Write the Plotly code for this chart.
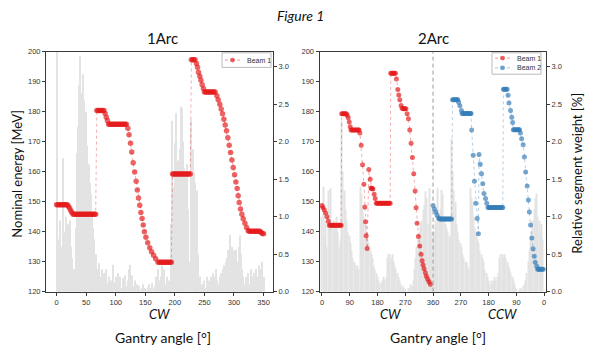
import plotly.graph_objects as go

# ---------------- 1Arc (left panel) ----------------
arc1_bar_angle = [
    0, 2, 4, 6, 8, 10, 12, 14, 16, 18, 20, 22, 24, 26, 28, 30, 32, 34, 36, 38,
    40, 42, 44, 46, 48, 50, 52, 54, 56, 58, 60, 62, 64, 66, 68, 70, 72, 74, 76, 78,
    80, 82, 84, 86, 88, 90, 92, 94, 96, 98, 100, 102, 104, 106, 108, 110, 112, 114, 116, 118,
    120, 122, 124, 126, 128, 130, 132, 134, 136, 138, 140, 142, 144, 146, 148, 150, 152, 154, 156, 158,
    160, 162, 164, 166, 168, 170, 172, 174, 176, 178, 180, 182, 184, 186, 188, 190, 192, 194, 196, 198,
    200, 202, 204, 206, 208, 210, 212, 214, 216, 218, 220, 222, 224, 226, 228, 230, 232, 234, 236, 238,
    240, 242, 244, 246, 248, 250, 252, 254, 256, 258, 260, 262, 264, 266, 268, 270, 272, 274, 276, 278,
    280, 282, 284, 286, 288, 290, 292, 294, 296, 298, 300, 302, 304, 306, 308, 310, 312, 314, 316, 318,
    320, 322, 324, 326, 328, 330, 332, 334, 336, 338, 340, 342, 344, 346, 348, 350]
arc1_bar_weight = [
    3.3, 0.7, 0.55, 0.95, 0.6, 1.78, 0.8, 0.6, 1.0, 0.7, 0.9, 0.95, 0.6, 0.45, 0.25, 0.3, 0.85, 1.85, 2.2, 2.75,
    3.14, 2.65, 2.9, 2.55, 2.3, 2.4, 1.95, 1.7, 1.45, 1.3, 1.05, 0.85, 0.7, 0.5, 0.3, 0.25, 0.38, 0.2, 0.3, 0.15,
    0.25, 0.1, 0.3, 0.12, 0.2, 0.08, 0.15, 0.1, 0.36, 0.12, 0.2, 0.1, 0.25, 0.15, 0.2, 0.05, 0.18, 0.1, 0.22, 0.08,
    0.15, 0.3, 0.36, 0.12, 0.22, 0.08, 0.15, 0.05, 0.1, 0.03, 0.08, 0.02, 0.05, 0.1, 0.03, 0.05, 0.02, 0.06, 0.1, 0.03,
    0.05, 0.12, 0.04, 0.08, 0.2, 0.1, 0.3, 0.15, 0.2, 0.35, 0.12, 0.3, 0.1, 0.2, 0.08, 0.15, 0.1, 0.9, 2.28, 1.4,
    1.98, 2.38, 1.6, 1.75, 1.9, 2.47, 2.45, 2.0, 1.65, 1.6, 1.7, 1.1, 0.4, 0.0, 2.3, 1.9, 1.6, 1.45, 1.33, 1.35,
    0.5, 0.2, 0.1, 0.05, 0.1, 0.15, 0.05, 0.2, 0.1, 0.15, 0.05, 0.2, 0.25, 0.1, 0.2, 0.3, 0.15, 0.1, 0.2, 0.25,
    0.15, 0.3, 0.35, 0.4, 0.45, 0.56, 0.5, 0.76, 0.6, 0.45, 0.55, 0.5, 0.56, 0.4, 0.6, 0.75, 0.5, 0.3, 0.2, 0.1,
    0.2, 0.15, 0.25, 0.1, 0.3, 0.2, 0.1, 0.25, 0.15, 0.3, 0.2, 0.35, 0.2, 0.3, 0.4, 0.2]

arc1_beam1_angle = [
    0, 2, 4, 6, 8, 10, 12, 14, 16, 18,
    20, 22, 24, 26,
    28, 30, 32, 34, 36, 38, 40, 42, 44, 46, 48, 50, 52, 54, 56, 58, 60, 62, 64, 66,
    68, 70, 72, 74, 76, 78, 80,
    82, 84, 86,
    88, 90, 92, 94, 96, 98, 100, 102, 104, 106, 108, 110, 112, 114, 116, 118,
    120.5, 122.5, 125, 127, 129.5, 132, 134.5, 136.5, 138.5, 140.5, 142.5, 144.5, 146.5, 148.5, 151, 154, 157.5, 160.5, 164, 167.5,
    171.5, 174, 176, 178, 180, 182, 184, 186, 188, 190, 192, 194,
    196, 198, 200, 202, 204, 206, 208, 210, 212, 214, 216, 218, 220, 222, 224, 226,
    228, 230, 232, 234,
    236.5, 238.3, 240, 242.2, 244, 246.2, 248.4,
    250, 252, 254, 256, 258, 260, 262, 264, 266, 268,
    271, 273.3, 276, 278.3, 280.6, 282.9, 285.1, 287.4, 289.6, 291.9, 294.2, 296.4, 298.7, 301, 303.2, 305.4, 307.1, 308.8, 311, 313.4, 315.6, 318.5, 321.3, 324.1,
    326, 328, 330, 332, 334, 336, 338, 340, 342, 344,
    346, 348, 350]
arc1_beam1_energy = [
    149, 149, 149, 149, 149, 149, 149, 149, 149, 149,
    148.5, 147.8, 147.0, 146.3,
    145.8, 145.8, 145.8, 145.8, 145.8, 145.8, 145.8, 145.8, 145.8, 145.8, 145.8, 145.8, 145.8, 145.8, 145.8, 145.8, 145.8, 145.8, 145.8, 145.8,
    180.4, 180.4, 180.4, 180.4, 180.4, 180.4, 180.4,
    179.4, 178.2, 177.0,
    175.8, 175.8, 175.8, 175.8, 175.8, 175.8, 175.8, 175.8, 175.8, 175.8, 175.8, 175.8, 175.8, 175.8, 175.8, 175.8,
    174.5, 172.3, 169.5, 166.6, 163.0, 159.9, 156.8, 153.9, 151.2, 148.8, 146.4, 144.4, 142.2, 140.0, 138.1, 136.3, 134.6, 133.3, 132.1, 131.0,
    129.8, 129.8, 129.8, 129.8, 129.8, 129.8, 129.8, 129.8, 129.8, 129.8, 129.8, 129.8,
    159.2, 159.2, 159.2, 159.2, 159.2, 159.2, 159.2, 159.2, 159.2, 159.2, 159.2, 159.2, 159.2, 159.2, 159.2, 159.2,
    197.3, 197.3, 197.3, 197.3,
    196.1, 194.8, 193.2, 191.8, 190.5, 189.0, 187.7,
    186.6, 186.6, 186.6, 186.6, 186.6, 186.6, 186.6, 186.6, 186.6, 186.6,
    185.3, 184.0, 182.5, 180.9, 179.3, 177.5, 175.6, 173.7, 171.3, 168.8, 166.4, 163.9, 161.4, 159.0, 156.6, 154.4, 152.0, 149.7, 147.6, 145.8, 144.3, 142.8, 141.4, 140.3,
    140.1, 140.1, 140.1, 140.1, 140.1, 140.1, 140.1, 140.1, 140.1, 140.1,
    139.7, 139.4, 139.3]

# ---------------- 2Arc (right panel) ----------------
# CW arc: gantry 0 -> 356 ; CCW arc: gantry 360 -> 4 (plotted after the CW arc)
arc2_cw_bar_angle = [
    0, 4, 8, 12, 16, 20, 24, 28, 32, 36, 40, 44, 48, 52, 56, 60, 64, 68, 72, 76,
    80, 84, 88, 92, 96, 100, 104, 108, 112, 116, 120, 124, 128, 132, 136, 140, 144, 148, 152, 156,
    160, 164, 168, 172, 176, 180, 184, 188, 192, 196, 200, 204, 208, 212, 216, 220, 224, 228, 232, 236,
    240, 244, 248, 252, 256, 260, 264, 268, 272, 276, 280, 284, 288, 292, 296, 300, 304, 308, 312, 316,
    320, 324, 328, 332, 336, 340, 344, 348, 352, 356]
arc2_cw_bar_weight = [
    1.0, 1.4, 0.75, 0.95, 0.6, 1.35, 1.1, 1.38, 0.9, 0.95, 0.8, 0.9, 1.0, 0.8, 0.6, 0.7, 2.28, 1.6, 1.35, 1.1,
    0.95, 0.8, 0.75, 0.65, 0.55, 0.45, 0.4, 0.35, 0.3, 0.35, 0.3, 1.4, 1.3, 1.15, 1.0, 0.9, 0.8, 0.7, 0.65, 0.55,
    0.5, 0.45, 0.35, 0.3, 0.25, 0.2, 0.15, 0.1, 0.12, 0.15, 0.2, 0.15, 0.2, 0.45, 0.5, 0.5, 0.45, 0.5, 0.4, 0.35,
    0.3, 0.25, 0.2, 0.15, 0.1, 0.08, 0.05, 0.03, 0.02, 0.0, 0.05, 0.02, 0.1, 0.08, 0.15, 0.3, 0.45, 0.6, 0.7, 0.8,
    0.9, 0.95, 1.1, 1.16, 1.34, 1.25, 0.9, 1.38, 1.1, 0.8]
arc2_ccw_bar_angle = [
    360, 356, 352, 348, 344, 340, 336, 332, 328, 324, 320, 316, 312, 308, 304, 300, 296, 292, 288, 284,
    280, 276, 272, 268, 264, 260, 256, 252, 248, 244, 240, 236, 232, 228, 224, 220, 216, 212, 208, 204,
    200, 196, 192, 188, 184, 180, 176, 172, 168, 164, 160, 156, 152, 148, 144, 140, 136, 132, 128, 124,
    120, 116, 112, 108, 104, 100, 96, 92, 88, 84, 80, 76, 72, 68, 64, 60, 56, 52, 48, 44,
    40, 36, 32, 28, 24, 20, 16, 12, 8, 4]
arc2_ccw_bar_weight = [
    0.8, 0.8, 0.95, 0.9, 1.38, 0.95, 1.1, 1.36, 1.3, 0.95, 0.9, 0.85, 0.8, 0.75, 0.7, 2.04, 1.6, 1.35, 1.2, 0.9,
    0.8, 0.7, 0.65, 0.6, 0.5, 0.45, 0.4, 0.4, 0.35, 0.3, 1.38, 1.25, 1.15, 1.0, 0.85, 0.8, 0.7, 0.65, 0.55, 0.5,
    0.45, 0.4, 0.3, 0.25, 0.2, 0.15, 0.1, 0.15, 0.1, 0.15, 0.2, 0.15, 0.2, 0.25, 0.45, 0.5, 0.5, 0.45, 0.5, 0.45,
    0.4, 0.35, 0.3, 0.25, 0.2, 0.15, 0.1, 0.05, 0.02, 0.0, 0.03, 0.05, 0.02, 0.08, 0.1, 0.15, 0.25, 0.4, 0.55, 0.7,
    0.8, 0.95, 1.1, 1.25, 1.31, 1.0, 0.95, 0.8, 0.9, 0.7]

arc2_beam1_angle = [
    0, 3, 7.4, 11.8, 16.1, 20.4,
    24, 27, 30, 33, 36, 39, 42, 45, 48, 51, 54, 57, 60, 62,
    64, 67, 70, 73, 76, 79,
    81.8, 85, 88.3, 91.5,
    94, 97, 100, 103, 106, 109, 112, 115, 118, 120,
    122.8, 127.1, 131.5, 135.8, 139, 141.1, 143.3, 146.5,
    151.9, 156.2, 159, 161, 163, 165, 169.2, 172.4,
    176, 179, 182, 185, 188, 191, 194, 197, 200, 203, 206, 209, 212, 215, 218, 221,
    223, 226, 229, 232, 235, 238,
    241.4, 245.7, 248.9, 252.2, 256.5, 259.7,
    263, 266, 269, 272,
    275.9, 280.2, 284.5, 288.8, 293.1, 297.4, 301.7, 305, 308.2, 312.5, 316.8, 321.1, 324.4, 327.6, 330.8, 335.1, 338.4, 342.7, 347, 351.3]
arc2_beam1_energy = [
    148.7, 148.1, 147.3, 146.2, 145.0, 143.5,
    142.1, 142.1, 142.1, 142.1, 142.1, 142.1, 142.1, 142.1, 142.1, 142.1, 142.1, 142.1, 142.1, 142.1,
    179.3, 179.3, 179.3, 179.3, 179.3, 179.3,
    178.8, 178.0, 176.6, 175.0,
    173.9, 173.9, 173.9, 173.9, 173.9, 173.9, 173.9, 173.9, 173.9, 173.9,
    172.9, 168.8, 162.3, 155.8, 148.2, 143.3, 138.6, 134.4,
    160.7, 157.5, 154.6, 154.4, 154.4, 154.2, 152.5, 151.1,
    149.5, 149.5, 149.5, 149.5, 149.5, 149.5, 149.5, 149.5, 149.5, 149.5, 149.5, 149.5, 149.5, 149.5, 149.5, 149.5,
    192.8, 192.8, 192.8, 192.8, 192.8, 192.8,
    190.9, 187.4, 185.6, 184.0, 182.1, 181.2,
    181.0, 181.0, 181.0, 181.0,
    179.3, 177.7, 173.9, 169.5, 164.7, 159.3, 153.6, 148.0, 142.8, 138.4, 135.2, 132.5, 130.3, 128.9, 127.6, 126.3, 125.1, 124.1, 123.3, 122.5]

arc2_beam2_angle = [
    360, 356, 351, 347, 342,
    339, 336, 333, 330, 327, 324, 321, 318, 315, 312, 309, 306, 303, 300,
    297, 294, 291, 288, 285, 282, 280,
    277, 273, 268,
    266, 263, 260, 257, 254, 251, 248, 245, 242, 239, 237,
    235, 230, 226, 222, 217, 213,
    211, 207, 203, 199, 195, 190, 186,
    182, 179, 176, 173, 170, 167, 164, 161, 158, 155, 152, 149, 146, 143, 140, 137, 134,
    132, 129, 126, 123, 120,
    117, 114, 109, 105, 102,
    100, 97, 94, 91, 88, 85, 82, 80,
    77, 73, 68, 64, 60, 55, 51, 48, 44, 40, 36, 32, 29, 24,
    21, 18, 15, 12, 9, 6, 3]
arc2_beam2_energy = [
    148.7, 147.6, 146.6, 145.5, 144.6,
    144.2, 144.2, 144.2, 144.2, 144.2, 144.2, 144.2, 144.2, 144.2, 144.2, 144.2, 144.2, 144.2, 144.2,
    184.0, 184.0, 184.0, 184.0, 184.0, 184.0, 184.0,
    183.2, 182.0, 180.4,
    179.4, 179.4, 179.4, 179.4, 179.4, 179.4, 179.4, 179.4, 179.4, 179.4, 179.4,
    173.9, 165.5, 156.8, 149.5, 144.4, 139.3,
    165.7, 162.5, 159.3, 156.0, 152.7, 151.1, 149.5,
    148.1, 148.1, 148.1, 148.1, 148.1, 148.1, 148.1, 148.1, 148.1, 148.1, 148.1, 148.1, 148.1, 148.1, 148.1, 148.1, 148.1,
    187.5, 187.5, 187.5, 187.5, 187.5,
    185.5, 182.9, 180.4, 178.2, 176.4,
    174.0, 174.0, 174.0, 174.0, 174.0, 174.0, 174.0, 174.0,
    172.9, 171.0, 169.0, 164.9, 159.9, 155.2, 150.6, 146.6, 142.2, 137.9, 134.3, 131.8, 129.8, 128.5,
    127.5, 127.5, 127.5, 127.5, 127.5, 127.5, 127.5]

arc2_tick_vals = [0, 90, 180, 270, 360, 450, 540, 630, 720]
arc2_tick_text = ["0", "90", "180", "270", "360", "270", "180", "90", "0"]

# ---------------- styling ----------------
RED = "rgba(228,26,28,0.68)"
RED_LINE = "rgba(228,26,28,0.45)"
BLUE = "rgba(55,126,184,0.68)"
BLUE_LINE = "rgba(55,126,184,0.45)"
BAR = "#e3e3e3"
AX = "#3a3a3a"
SANS = "Liberation Sans, Arial, sans-serif"
TICKFONT = dict(family=SANS, size=7.5, color="#333")
LABFONT = "Lato, Open Sans, sans-serif"

fig = go.Figure()

# bars (weight axis, base axes -> drawn underneath)
fig.add_trace(go.Bar(x=arc1_bar_angle, y=arc1_bar_weight, width=1.8,
                     marker=dict(color=BAR, line=dict(width=0)),
                     xaxis="x", yaxis="y", showlegend=False, hoverinfo="skip"))
arc2_bar_pos = list(arc2_cw_bar_angle) + [720 - g for g in arc2_ccw_bar_angle]
arc2_bar_w = list(arc2_cw_bar_weight) + list(arc2_ccw_bar_weight)
fig.add_trace(go.Bar(x=arc2_bar_pos, y=arc2_bar_w, width=3.6,
                     marker=dict(color=BAR, line=dict(width=0)),
                     xaxis="x2", yaxis="y3", showlegend=False, hoverinfo="skip"))

# beams (energy axis, overlay)
fig.add_trace(go.Scatter(x=arc1_beam1_angle, y=arc1_beam1_energy, mode="lines+markers",
                         name="Beam 1", showlegend=False,
                         line=dict(color=RED_LINE, width=0.8, dash="dot"),
                         marker=dict(color=RED, size=5.5),
                         xaxis="x", yaxis="y2"))
fig.add_trace(go.Scatter(x=arc2_beam1_angle, y=arc2_beam1_energy, mode="lines+markers",
                         name="Beam 1", showlegend=False,
                         line=dict(color=RED_LINE, width=0.8, dash="dot"),
                         marker=dict(color=RED, size=5),
                         xaxis="x2", yaxis="y4"))
fig.add_trace(go.Scatter(x=[720 - g for g in arc2_beam2_angle], y=arc2_beam2_energy,
                         mode="lines+markers", name="Beam 2", showlegend=False,
                         line=dict(color=BLUE_LINE, width=0.8, dash="dot"),
                         marker=dict(color=BLUE, size=5),
                         xaxis="x2", yaxis="y4"))

YDOM = [1 - 295 / 360, 1 - 49 / 360]
common_axis = dict(showgrid=False, zeroline=False, showline=True, linecolor=AX, linewidth=1,
                   ticks="outside", ticklen=3, tickcolor=AX, tickfont=TICKFONT)


def px(x):
    return x / 600


def py(y):
    return 1 - y / 360


shapes = [dict(type="line", xref="x2", yref="y3 domain", x0=360, x1=360, y0=0, y1=1,
               line=dict(color="#999999", width=1, dash="4px,3px"), layer="above")]
annotations = []


def add_legend(x0, x1, y0, y1, entries):
    shapes.append(dict(type="rect", xref="paper", yref="paper", x0=px(x0), x1=px(x1), y0=py(y1), y1=py(y0),
                       line=dict(color="#bbbbbb", width=1), fillcolor="white", layer="above"))
    for (yc, name, mcol, lcol) in entries:
        shapes.append(dict(type="line", xref="paper", yref="paper", x0=px(x0 + 3), x1=px(x0 + 18),
                           y0=py(yc), y1=py(yc), line=dict(color=lcol, width=1, dash="dot"), layer="above"))
        shapes.append(dict(type="circle", xref="paper", yref="paper", x0=px(x0 + 8), x1=px(x0 + 13),
                           y0=py(yc + 2.5), y1=py(yc - 2.5), fillcolor=mcol, line=dict(width=0), layer="above"))
        annotations.append(dict(text=name, x=px(x0 + 23), y=py(yc), xref="paper", yref="paper",
                                showarrow=False, xanchor="left", yanchor="middle",
                                font=dict(family=SANS, size=7, color="#333")))


add_legend(222, 271, 50, 65, [(57.5, "Beam 1", RED, RED_LINE)])
add_legend(492, 541, 50, 72, [(55.5, "Beam 1", RED, RED_LINE), (65.5, "Beam 2", BLUE, BLUE_LINE)])

fig.update_layout(
    width=600, height=360,
    margin=dict(l=0, r=0, t=0, b=0),
    paper_bgcolor="white", plot_bgcolor="white",
    barmode="overlay", showlegend=False,
    xaxis=dict(domain=[46 / 600, 273 / 600], range=[-18, 366], anchor="y",
               tickvals=[0, 50, 100, 150, 200, 250, 300, 350], mirror=True, **common_axis),
    yaxis=dict(domain=YDOM, range=[0, 3.2], side="right", anchor="x",
               tickvals=[0, 0.5, 1.0, 1.5, 2.0, 2.5, 3.0], tickformat=".1f", **common_axis),
    yaxis2=dict(range=[120, 200], overlaying="y", side="left", anchor="x",
                tickvals=[120, 130, 140, 150, 160, 170, 180, 190, 200], **common_axis),
    xaxis2=dict(domain=[319.5 / 600, 546 / 600], range=[-8, 726], anchor="y3",
                tickvals=arc2_tick_vals, ticktext=arc2_tick_text, mirror=True, **common_axis),
    yaxis3=dict(domain=YDOM, range=[0, 3.2], side="right", anchor="x2",
                tickvals=[0, 0.5, 1.0, 1.5, 2.0, 2.5, 3.0], tickformat=".1f", **common_axis),
    yaxis4=dict(range=[120, 200], overlaying="y3", side="left", anchor="x2",
                tickvals=[120, 130, 140, 150, 160, 170, 180, 190, 200], **common_axis),
)

ann = [
    dict(text="<i>Figure 1</i>", x=300, y=12, size=14),
    dict(text="1Arc", x=162, y=35, size=15),
    dict(text="2Arc", x=433, y=35, size=15),
    dict(text="<i>CW</i>", x=159, y=318, size=13),
    dict(text="Gantry angle [°]", x=163, y=342, size=14),
    dict(text="<i>CW</i>", x=390, y=318, size=13),
    dict(text="<i>CCW</i>", x=502, y=318, size=13),
    dict(text="Gantry angle [°]", x=438, y=342, size=14),
]
for a in ann:
    annotations.append(dict(text=a["text"], x=px(a["x"]), y=py(a["y"]), xref="paper", yref="paper",
                            showarrow=False, xanchor="center", yanchor="middle",
                            font=dict(family=LABFONT, size=a["size"], color="#111")))
annotations.append(dict(text="Nominal energy [MeV]", x=px(17), y=py(174), xref="paper", yref="paper",
                        showarrow=False, textangle=-90, xanchor="center", yanchor="middle",
                        font=dict(family=LABFONT, size=13, color="#111")))
annotations.append(dict(text="Relative segment weight [%]", x=px(577), y=py(174), xref="paper", yref="paper",
                        showarrow=False, textangle=-90, xanchor="center", yanchor="middle",
                        font=dict(family=LABFONT, size=13, color="#111")))

fig.update_layout(shapes=shapes, annotations=annotations)
fig.write_html("out.html", config={"displayModeBar": False},
               post_script="document.body.style.margin='0px';")
